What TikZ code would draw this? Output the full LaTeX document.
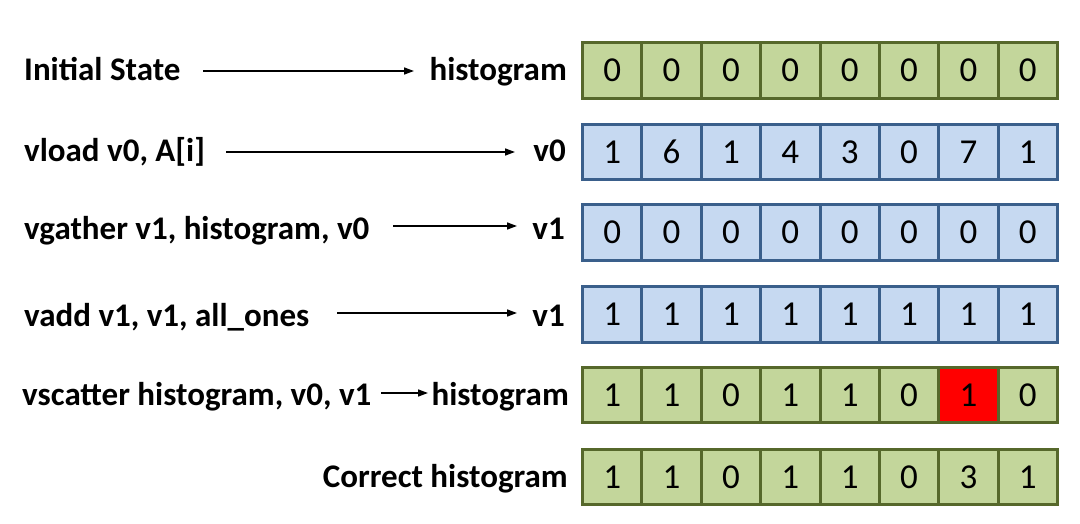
\documentclass[tikz,border=0pt]{standalone}
\usepackage{fontspec}
\setmainfont{Carlito}
\usetikzlibrary{arrows.meta}
\definecolor{cgfill}{HTML}{C3D69B}
\definecolor{cgline}{HTML}{56682B}
\definecolor{cbfill}{HTML}{C6D9F1}
\definecolor{cbline}{HTML}{3A5F8B}
\definecolor{cred}{HTML}{FF0000}
\begin{document}
\begin{tikzpicture}[x=1pt,y=-1pt,
  lbl/.style={inner sep=0pt, font=\fontsize{33}{40}\selectfont\bfseries},
  cell/.style={draw, line width=3pt, minimum width=59.375pt, minimum height=55.5pt, inner sep=0pt, font=\fontsize{35}{40}\selectfont, anchor=center},
  gcell/.style={cell, draw=cgline},
  bcell/.style={cell, fill=cbfill, draw=cbline},
  arr/.style={line width=1.5pt, -{Triangle[length=10pt,width=7pt]}}]
\useasboundingbox (0,0) rectangle (1080,524);

% left labels
\node[lbl, anchor=base west] (L1) at (24,81) {Initial State};
\node[lbl, anchor=base west] (L2) at (24,161.5) {vload v0, A[i]};
\node[lbl, anchor=base west] (L3) at (24,240) {vgather v1, histogram, v0};
\node[lbl, anchor=base west] (L4) at (24,326) {vadd v1, v1, all\_ones};
\node[lbl, anchor=base west] (L5) at (22,405) {vscatter histogram, v0, v1};
\node[lbl, anchor=base east] (L6) at (568,487) {Correct histogram};

% right labels
\node[lbl, anchor=base east] (R1) at (567,81) {histogram};
\node[lbl, anchor=base east] (R2) at (566,161.5) {v0};
\node[lbl, anchor=base east] (R3) at (565,240) {v1};
\node[lbl, anchor=base east] (R4) at (565,326) {v1};
\node[lbl, anchor=base east] (R5) at (569,405) {histogram};

% arrow end points
\coordinate (A1s) at (203,71);    \coordinate (A1e) at (414,71);
\coordinate (A2s) at (226,152);   \coordinate (A2e) at (515,152);
\coordinate (A3s) at (393,226);   \coordinate (A3e) at (517,226);
\coordinate (A4s) at (337,313);   \coordinate (A4e) at (517,313);
\coordinate (A5s) at (381,393);   \coordinate (A5e) at (428,393);
\draw[arr] (A1s) -- (A1e);
\draw[arr] (A2s) -- (A2e);
\draw[arr] (A3s) -- (A3e);
\draw[arr] (A4s) -- (A4e);
\draw[arr] (A5s) -- (A5e);

% rows of cells
\foreach \v [count=\i] in {0,0,0,0,0,0,0,0}
  \node[gcell, fill=cgfill] (a\i) at ({582.5+59.375*(\i-0.5)},70.5) {\v};
\foreach \v [count=\i] in {1,6,1,4,3,0,7,1}
  \node[bcell] (b\i) at ({582.5+59.375*(\i-0.5)},151.8) {\v};
\foreach \v [count=\i] in {0,0,0,0,0,0,0,0}
  \node[bcell] (c\i) at ({582.5+59.375*(\i-0.5)},232.5) {\v};
\foreach \v [count=\i] in {1,1,1,1,1,1,1,1}
  \node[bcell] (d\i) at ({582.5+59.375*(\i-0.5)},314.5) {\v};
\foreach \v/\f [count=\i] in {1/cgfill,1/cgfill,0/cgfill,1/cgfill,1/cgfill,0/cgfill,1/cred,0/cgfill}
  \node[gcell, fill=\f] (e\i) at ({582.5+59.375*(\i-0.5)},395) {\v};
\foreach \v [count=\i] in {1,1,0,1,1,0,3,1}
  \node[gcell, fill=cgfill] (f\i) at ({582.5+59.375*(\i-0.5)},477) {\v};
\end{tikzpicture}
\end{document}
